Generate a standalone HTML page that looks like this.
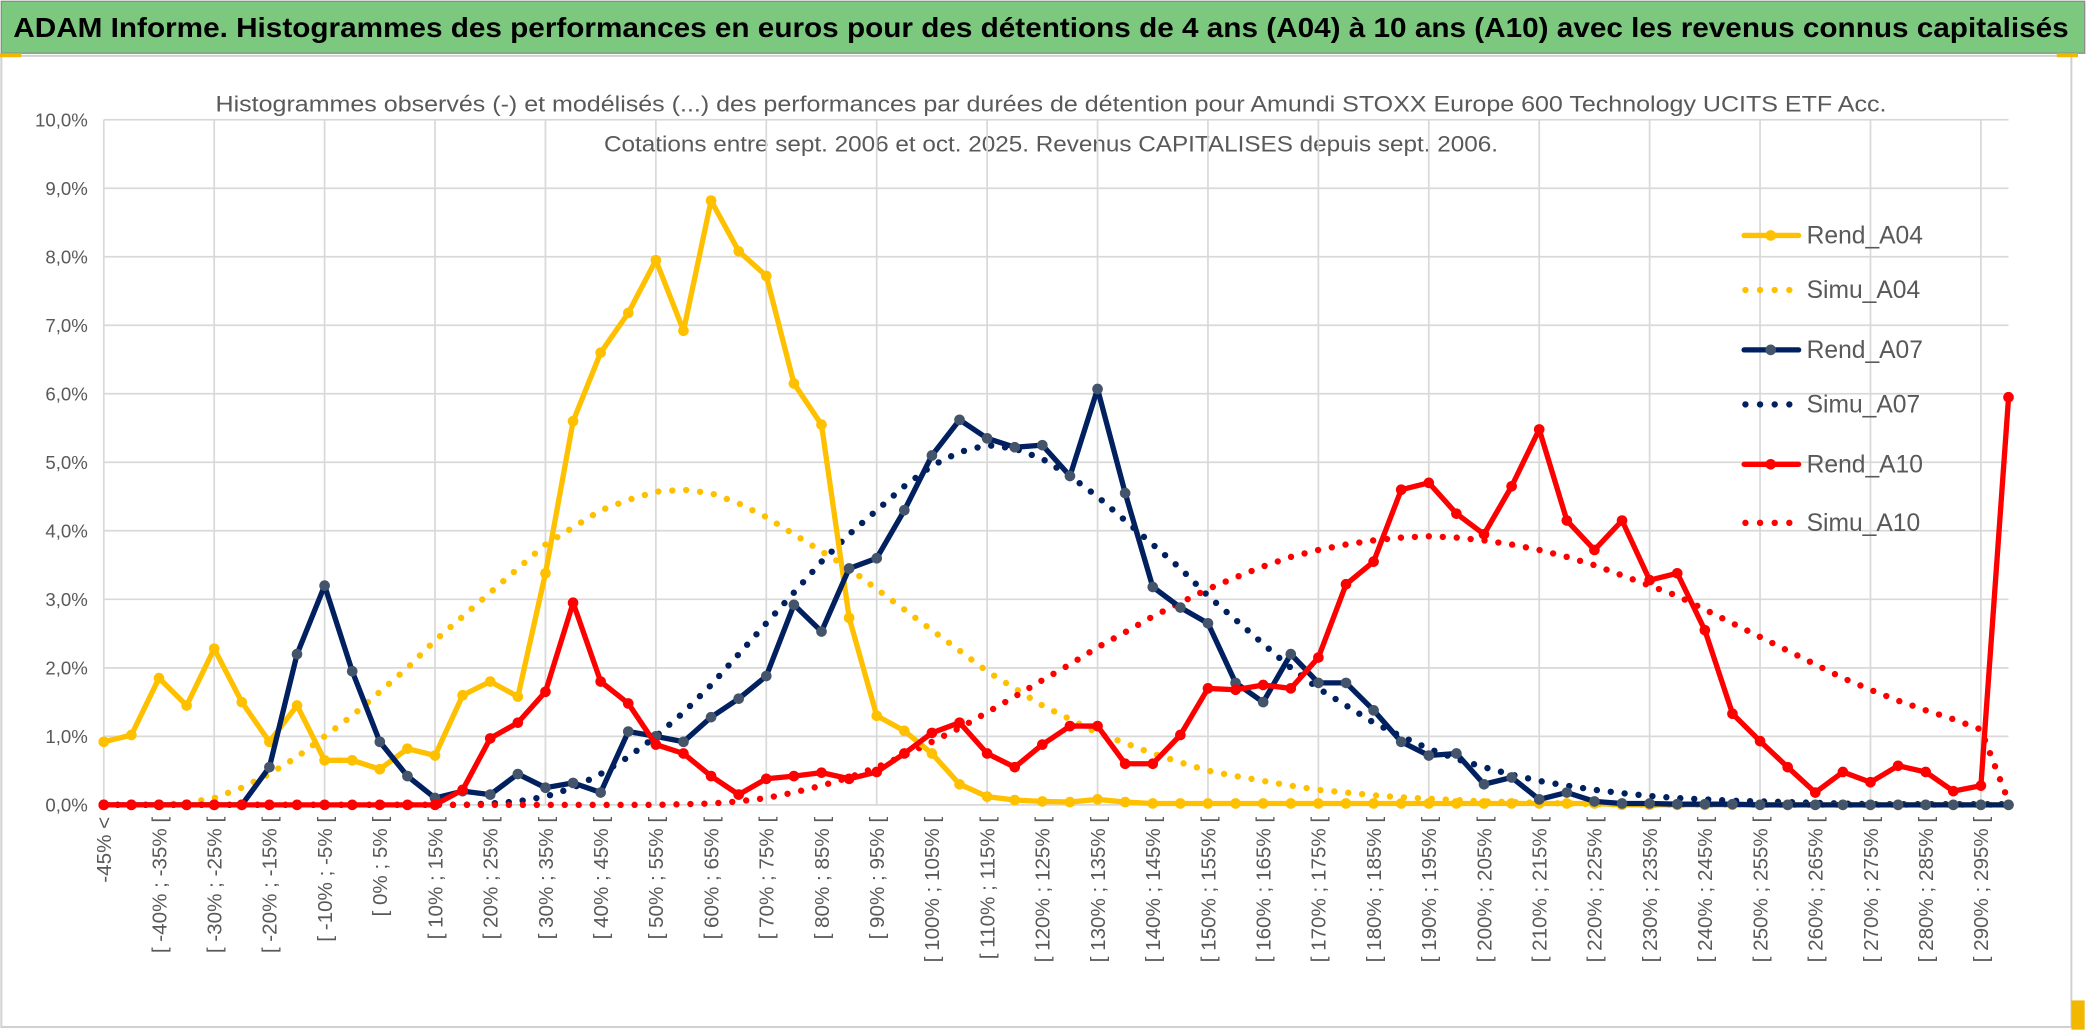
<!DOCTYPE html>
<html><head><meta charset="utf-8"><style>
html,body{margin:0;padding:0;background:#fff;overflow:hidden}
svg{display:block}
text{font-family:"Liberation Sans",sans-serif}
</style></head><body>
<svg id="chart" width="2086" height="1033" viewBox="0 0 1568 776.5" preserveAspectRatio="none" xmlns="http://www.w3.org/2000/svg">
<rect x="0" y="0" width="1568" height="776.5" fill="#ffffff"/>
<rect x="1" y="1" width="1566" height="39" fill="#7dc87f" stroke="#8c8c8c" stroke-width="1"/>
<text x="10" y="28" font-size="21" font-weight="bold" fill="#000" textLength="1545" lengthAdjust="spacingAndGlyphs">ADAM Informe. Histogrammes des performances en euros pour des détentions de 4 ans (A04) à 10 ans (A10) avec les revenus connus capitalisés</text>
<rect x="1" y="42" width="1556" height="730" fill="none" stroke="#d0d0d0" stroke-width="1.5"/>
<rect x="0" y="40" width="16" height="3" fill="#f2b800"/>
<rect x="1546" y="40" width="16" height="3" fill="#f2b800"/>
<rect x="1557" y="752" width="10" height="22" fill="#f2b800"/>
<text x="790" y="84" font-size="17" fill="#595959" text-anchor="middle" textLength="1256" lengthAdjust="spacingAndGlyphs">Histogrammes observés (-) et modélisés (...) des performances par durées de détention pour Amundi STOXX Europe 600 Technology UCITS ETF Acc.</text>
<text x="790" y="114" font-size="17" fill="#595959" text-anchor="middle" textLength="672" lengthAdjust="spacingAndGlyphs">Cotations entre sept. 2006 et oct. 2025. Revenus CAPITALISES depuis sept. 2006.</text>
<g id="grid"></g>
<g id="yaxis"></g>
<g id="xaxis"></g>
<g id="series"></g>
<g id="legend"></g>
</svg>
<script>
const categories = ["-45% <"];
for (let v = -45; v < 300; v += 5) categories.push("[ " + v + "% ; " + (v + 5) + "% [");
const rendA04 = [0.92,1.02,1.85,1.45,2.28,1.5,0.92,1.45,0.65,0.65,0.52,0.82,0.72,1.6,1.8,1.58,3.38,5.6,6.6,7.18,7.95,6.92,8.82,8.08,7.72,6.15,5.55,2.73,1.3,1.08,0.75,0.3,0.12,0.07,0.05,0.04,0.08,0.04,0.02,0.02,0.02,0.02,0.02,0.02,0.02,0.02,0.02,0.02,0.02,0.02,0.02,0.02,0.02,0.02,0.02,0,0,0,0,0,0,0,0,0,0,0,0,0,0,0];
const simuA04 = [0,0,0,0.03,0.1,0.25,0.45,0.7,1.0,1.3,1.65,2.0,2.4,2.75,3.1,3.45,3.8,4.05,4.3,4.45,4.57,4.6,4.55,4.4,4.2,3.95,3.7,3.45,3.15,2.85,2.55,2.25,1.95,1.7,1.45,1.25,1.05,0.9,0.75,0.62,0.5,0.42,0.35,0.28,0.22,0.18,0.14,0.11,0.09,0.07,0.05,0.04,0.03,0.02,0.01,0.01,0,0,0,0,0,0,0,0,0,0,0,0,0,0];
const rendA07 = [0,0,0,0,0,0,0.55,2.2,3.2,1.95,0.92,0.42,0.1,0.2,0.15,0.45,0.25,0.32,0.18,1.07,1.0,0.92,1.28,1.55,1.88,2.92,2.53,3.45,3.6,4.3,5.1,5.62,5.35,5.22,5.25,4.8,6.07,4.55,3.18,2.88,2.65,1.78,1.5,2.2,1.78,1.78,1.38,0.92,0.72,0.75,0.3,0.4,0.08,0.18,0.05,0.02,0.02,0.01,0.01,0.01,0,0,0,0,0,0,0,0,0,0];
const simuA07 = [0,0,0,0,0,0,0,0,0,0,0,0,0,0,0.02,0.05,0.12,0.25,0.45,0.7,1.0,1.35,1.75,2.2,2.65,3.1,3.55,3.95,4.3,4.65,4.95,5.15,5.25,5.2,5.05,4.8,4.5,4.15,3.8,3.45,3.05,2.7,2.35,2.0,1.7,1.45,1.2,1.0,0.82,0.67,0.55,0.44,0.35,0.28,0.22,0.17,0.13,0.1,0.08,0.06,0.05,0.04,0.03,0.02,0.01,0.01,0.01,0.01,0.01,0.01];
const rendA10 = [0,0,0,0,0,0,0,0,0,0,0,0,0,0.22,0.97,1.2,1.65,2.95,1.8,1.48,0.88,0.75,0.42,0.15,0.38,0.42,0.47,0.38,0.48,0.75,1.05,1.2,0.75,0.55,0.88,1.15,1.15,0.6,0.6,1.02,1.7,1.68,1.75,1.7,2.15,3.22,3.55,4.6,4.7,4.25,3.95,4.65,5.48,4.15,3.72,4.15,3.28,3.38,2.55,1.33,0.93,0.55,0.18,0.48,0.33,0.57,0.48,0.2,0.28,5.95];
const simuA10 = [0,0,0,0,0,0,0,0,0,0,0,0,0,0,0,0,0,0,0,0,0,0.01,0.02,0.05,0.1,0.18,0.28,0.4,0.55,0.72,0.92,1.12,1.35,1.58,1.82,2.05,2.3,2.52,2.75,2.95,3.15,3.32,3.48,3.62,3.72,3.8,3.86,3.9,3.92,3.9,3.86,3.8,3.72,3.62,3.5,3.35,3.2,3.05,2.85,2.65,2.45,2.25,2.05,1.85,1.68,1.52,1.38,1.25,1.1,0.05];
const yTicks = [0,1,2,3,4,5,6,7,8,9,10];
const yTickLabels = ["0,0%","1,0%","2,0%","3,0%","4,0%","5,0%","6,0%","7,0%","8,0%","9,0%","10,0%"];

const NS = "http://www.w3.org/2000/svg";
const X0 = 78, STEP = 20.75, Y0 = 605, YPX = 51.5;
const nPts = rendA04.length;
function xPos(i){ return X0 + i * STEP; }
function yPos(v){ return Y0 - v * YPX; }
function mk(tag, attrs, parent){ const e = document.createElementNS(NS, tag); for (const k in attrs) e.setAttribute(k, attrs[k]); parent.appendChild(e); return e; }

const grid = document.getElementById('grid');
const xEnd = xPos(nPts - 1);
yTicks.forEach(function(t){
  const l = mk('line', {x1: X0, x2: xEnd, y1: yPos(t), y2: yPos(t), stroke: '#d9d9d9', 'stroke-width': 1.3}, grid);
  
  
});
for (let i = 0; i < nPts; i += 4) {
  const l = mk('line', {x1: xPos(i), x2: xPos(i), y1: yPos(10), y2: Y0, stroke: '#d9d9d9', 'stroke-width': 1.3}, grid);
  
  
}
const yaxis = document.getElementById('yaxis');
yTicks.forEach(function(t, k){
  const tx = mk('text', {x: 66, y: yPos(t) + 5, 'font-size': 14, fill: '#595959', 'text-anchor': 'end'}, yaxis);
  tx.textContent = yTickLabels[k];
  
  
});
const xaxis = document.getElementById('xaxis');
for (let i = 0; i < nPts; i += 2) {
  const x = xPos(i) + 5.5, y = 614;
  const tx = mk('text', {x: x, y: y, 'font-size': 15.5, fill: '#595959', 'text-anchor': 'end', transform: 'rotate(-90 ' + x + ' ' + y + ')'}, xaxis);
  tx.textContent = categories[i];
  
  
}
const series = document.getElementById('series');
function drawLine(vals, color, dotted, markerColor, name){
  const pts = vals.map(function(v, i){ return xPos(i).toFixed(1) + ',' + yPos(v).toFixed(1); }).join(' ');
  const attrs = {points: pts, fill: 'none', stroke: color, 'stroke-linejoin': 'round'};
  if (dotted) { attrs['stroke-width'] = 4.8; attrs['stroke-dasharray'] = '0 10.5'; attrs['stroke-linecap'] = 'round'; }
  else { attrs['stroke-width'] = 4; }
  const pl = mk('polyline', attrs, series);
  
  
  if (!dotted) {
    vals.forEach(function(v, i){
      const c = mk('circle', {cx: xPos(i), cy: yPos(v), r: 4, fill: markerColor}, series);
      
      
    });
  }
}
drawLine(simuA04, '#ffc000', true, null, 'simu-a04-line');
drawLine(simuA07, '#002060', true, null, 'simu-a07-line');
drawLine(simuA10, '#ff0000', true, null, 'simu-a10-line');
drawLine(rendA04, '#ffc000', false, '#ffc000', 'rend-a04-line');
drawLine(rendA07, '#002060', false, '#44546a', 'rend-a07-line');
drawLine(rendA10, '#ff0000', false, '#ff0000', 'rend-a10-line');

const legend = document.getElementById('legend');
const legendNames = ["Rend_A04","Simu_A04","Rend_A07","Simu_A07","Rend_A10","Simu_A10"];
const legendColors = ['#ffc000','#ffc000','#002060','#002060','#ff0000','#ff0000'];
const legendMarker = ['#ffc000',null,'#44546a',null,'#ff0000',null];
const legendY = [177, 218, 263, 304, 349, 393];
legendNames.forEach(function(n, k){
  const y = legendY[k];
  const g = mk('g', {}, legend);
  
  
  if (legendMarker[k]) {
    mk('line', {x1: 1311, x2: 1352, y1: y, y2: y, stroke: legendColors[k], 'stroke-width': 4, 'stroke-linecap': 'round'}, g);
    mk('circle', {cx: 1331, cy: y, r: 4, fill: legendMarker[k]}, g);
  } else {
    mk('line', {x1: 1312, x2: 1352, y1: y, y2: y, stroke: legendColors[k], 'stroke-width': 4.8, 'stroke-dasharray': '0 11', 'stroke-linecap': 'round'}, g);
  }
  const t = mk('text', {x: 1358, y: y + 6, 'font-size': 18.5, fill: '#595959'}, g);
  t.textContent = n;
});
</script>
</body></html>
